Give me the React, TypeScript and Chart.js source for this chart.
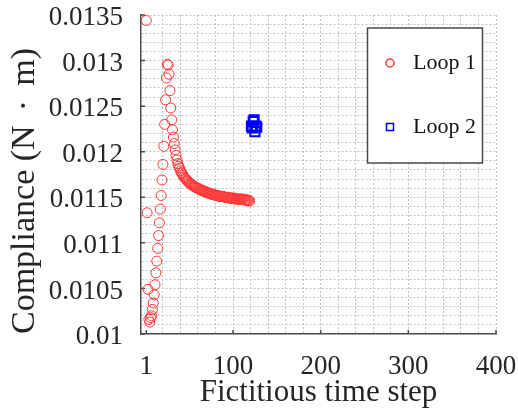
import React, { useEffect, useRef } from "react";
import { Chart, registerables } from "chart.js";

Chart.register(...registerables);

// Loop 1: compliance at fictitious time steps 1, 2, 3, ...
const LOOP1_COMPLIANCE = [
  0.01344, 0.01133, 0.01049, 0.01016, 0.01013, 0.01018, 0.0102, 0.01027, 0.01034, 0.01043,
  0.01054, 0.01067, 0.0108, 0.01094, 0.01108, 0.01122, 0.01137, 0.01152, 0.01169, 0.01186,
  0.01206, 0.0123, 0.01257, 0.01281, 0.01296, 0.01295, 0.01285, 0.01267, 0.01248, 0.01235,
  0.01224, 0.01216, 0.01209, 0.01202, 0.01196, 0.01191, 0.01187, 0.01184, 0.01182, 0.01179,
  0.01177, 0.01176, 0.01174, 0.01172, 0.01171, 0.0117, 0.01169, 0.01168, 0.01167, 0.01166,
  0.01165, 0.01164, 0.01164, 0.01163, 0.01162, 0.01162, 0.01161, 0.01161, 0.0116, 0.0116,
  0.01159, 0.01159, 0.01158, 0.01158, 0.01157, 0.01157, 0.01157, 0.01156, 0.01156, 0.01155,
  0.01155, 0.01155, 0.01154, 0.01154, 0.01154, 0.01153, 0.01153, 0.01153, 0.01153, 0.01152,
  0.01152, 0.01152, 0.01152, 0.01151, 0.01151, 0.01151, 0.01151, 0.01151, 0.01151, 0.0115,
  0.0115, 0.0115, 0.0115, 0.0115, 0.0115, 0.01149, 0.01149, 0.01149, 0.01149, 0.01149,
  0.01149, 0.01149, 0.01148, 0.01148, 0.01148, 0.01148, 0.01148, 0.01148, 0.01148, 0.01148,
  0.01148, 0.01148, 0.01147, 0.01147, 0.01147, 0.01147, 0.01147, 0.01146, 0.01146,
];

const LOOP2_STEPS = [121, 122, 123, 124, 125, 126, 127];
const LOOP2_COMPLIANCE = [0.01228, 0.01226, 0.01233, 0.01235, 0.01222, 0.01228, 0.01227];

const SERIES_LABELS = ["Loop 1", "Loop 2"];

const X_TICKS = [1, 100, 200, 300, 400];
const X_GRID_STEP = 20;
const X_MIN = -5;
const X_MAX = 400;

const Y_TICKS = [0.01, 0.0105, 0.011, 0.0115, 0.012, 0.0125, 0.013, 0.0135];
const Y_GRID_STEP = 0.0001;
const Y_MIN = 0.01;
const Y_MAX = 0.0135;

const X_TITLE = "Fictitious time step";
const Y_TITLE = "Compliance (N\u2004\u200A·\u2004\u200Am)";

const SERIF = '"Liberation Serif", "Times New Roman", serif';
const TEXT_COLOR = "#262626";
const AXIS_COLOR = "#4a4a4a";
const GRID_COLOR = "#c4c4c4";
const RED = "rgb(255,55,55)";
const BLUE = "rgb(0,0,255)";

const zeroPadding = (scale: any) => {
  scale.paddingTop = 0;
  scale.paddingBottom = 0;
  scale.paddingLeft = 0;
  scale.paddingRight = 0;
};

const inwardTicks = {
  id: "inwardTicks",
  beforeDatasetsDraw(chart: any) {
    const { ctx, chartArea, scales } = chart;
    ctx.save();
    ctx.strokeStyle = AXIS_COLOR;
    ctx.lineWidth = 1.5;
    ctx.beginPath();
    for (const v of Y_TICKS) {
      const y = scales.y.getPixelForValue(v);
      ctx.moveTo(chartArea.left, y);
      ctx.lineTo(chartArea.left + 4, y);
    }
    for (const v of X_TICKS) {
      const x = scales.x.getPixelForValue(v);
      ctx.moveTo(x, chartArea.bottom);
      ctx.lineTo(x, chartArea.bottom - 4);
    }
    ctx.stroke();
    ctx.restore();
  },
};

const boxLegend = {
  id: "boxLegend",
  afterDatasetsDraw(chart: any) {
    const { ctx, chartArea } = chart;
    const w = 115;
    const h = 135;
    const left = chartArea.right - 128.5;
    const top = chartArea.top + 13;
    ctx.save();
    ctx.fillStyle = "#ffffff";
    ctx.fillRect(left, top, w, h);
    ctx.strokeStyle = AXIS_COLOR;
    ctx.lineWidth = 1.5;
    ctx.strokeRect(left, top, w, h);
    const rows = [top + 35, top + 99];
    const markerX = left + 22.5;
    const textX = left + 45.5;
    ctx.font = `22px ${SERIF}`;
    ctx.textBaseline = "middle";
    ctx.textAlign = "left";
    chart.data.datasets.forEach((ds: any, i: number) => {
      const y = rows[i];
      ctx.strokeStyle = ds.borderColor;
      ctx.lineWidth = 1.5;
      ctx.beginPath();
      if (ds.pointStyle === "rect") {
        ctx.rect(markerX - 3.5, y - 3.5, 7, 7);
      } else {
        ctx.arc(markerX, y, 4, 0, Math.PI * 2);
      }
      ctx.stroke();
      ctx.fillStyle = "#111111";
      ctx.fillText(ds.label, textX, y);
    });
    ctx.restore();
  },
};

export default function App() {
  const canvasRef = useRef<HTMLCanvasElement | null>(null);

  useEffect(() => {
    document.body.style.margin = "0";
    const canvas = canvasRef.current;
    if (!canvas) return;

    const loop1 = LOOP1_COMPLIANCE.map((c, i) => ({ x: i + 1, y: c }));
    const loop2 = LOOP2_STEPS.map((s, i) => ({ x: s, y: LOOP2_COMPLIANCE[i] }));

    const chart = new Chart(canvas, {
      type: "scatter",
      data: {
        datasets: [
          {
            label: SERIES_LABELS[0],
            data: loop1,
            pointStyle: "circle",
            pointRadius: 5,
            borderWidth: 1,
            borderColor: RED,
            backgroundColor: "rgba(0,0,0,0)",
          },
          {
            label: SERIES_LABELS[1],
            data: loop2,
            pointStyle: "rect",
            pointRadius: 6.5,
            borderWidth: 2,
            borderColor: BLUE,
            backgroundColor: "rgba(0,0,0,0)",
          },
        ],
      },
      options: {
        animation: false,
        responsive: false,
        devicePixelRatio: 1,
        layout: { padding: { left: 0, right: 22, top: 15, bottom: 0 } },
        plugins: {
          legend: { display: false },
          tooltip: { enabled: false },
        },
        scales: {
          x: {
            type: "linear",
            min: X_MIN,
            max: X_MAX,
            afterBuildTicks: (scale: any) => {
              const vals: number[] = [...X_TICKS];
              for (let v = X_GRID_STEP; v <= X_MAX; v += X_GRID_STEP) {
                if (!vals.includes(v)) vals.push(v);
              }
              vals.sort((a, b) => a - b);
              scale.ticks = vals.map((v) => ({ value: v }));
            },
            afterFit: (scale: any) => {
              scale.height = 80;
              zeroPadding(scale);
            },
            ticks: {
              autoSkip: false,
              maxRotation: 0,
              padding: 17,
              color: TEXT_COLOR,
              font: { family: SERIF, size: 27 },
              callback: (value: any) => (X_TICKS.includes(Number(value)) ? String(value) : ""),
            },
            grid: {
              drawTicks: false,
              lineWidth: 1,
              color: (ctx: any) =>
                ctx.tick && (ctx.tick.value === X_TICKS[0] || ctx.tick.value === X_MIN)
                  ? "rgba(0,0,0,0)"
                  : GRID_COLOR,
            },
            border: { display: true, color: AXIS_COLOR, width: 1.5, dash: [2, 2] },
            title: {
              display: true,
              text: X_TITLE,
              color: TEXT_COLOR,
              font: { family: SERIF, size: 31 },
              padding: { top: 0, bottom: 3 },
            },
          },
          y: {
            type: "linear",
            min: Y_MIN,
            max: Y_MAX,
            afterBuildTicks: (scale: any) => {
              const n = Math.round((Y_MAX - Y_MIN) / Y_GRID_STEP);
              const vals: { value: number }[] = [];
              for (let k = 0; k <= n; k++) {
                vals.push({ value: Math.round((Y_MIN + k * Y_GRID_STEP) * 1e6) / 1e6 });
              }
              scale.ticks = vals;
            },
            afterFit: (scale: any) => {
              scale.width = 141;
              zeroPadding(scale);
            },
            ticks: {
              autoSkip: false,
              padding: 18,
              labelOffset: 3,
              color: TEXT_COLOR,
              font: { family: SERIF, size: 27 },
              callback: (value: any) => {
                const t = Y_TICKS.find((tv) => Math.abs(tv - Number(value)) < 1e-9);
                return t !== undefined ? String(t) : "";
              },
            },
            grid: {
              drawTicks: false,
              lineWidth: 1,
              color: (ctx: any) =>
                ctx.tick && Math.abs(ctx.tick.value - Y_MIN) < 1e-9 ? "rgba(0,0,0,0)" : GRID_COLOR,
            },
            border: { display: true, color: AXIS_COLOR, width: 1.5, dash: [2, 2] },
            title: {
              display: true,
              text: Y_TITLE,
              color: TEXT_COLOR,
              align: "start",
              font: { family: SERIF, size: 34 },
              padding: { top: 5, bottom: 0 },
            },
          },
        },
      },
      plugins: [inwardTicks, boxLegend],
    } as any);

    return () => chart.destroy();
  }, []);

  return (
    <div style={{ width: 518, height: 414 }}>
      <canvas ref={canvasRef} width={518} height={414} />
    </div>
  );
}
